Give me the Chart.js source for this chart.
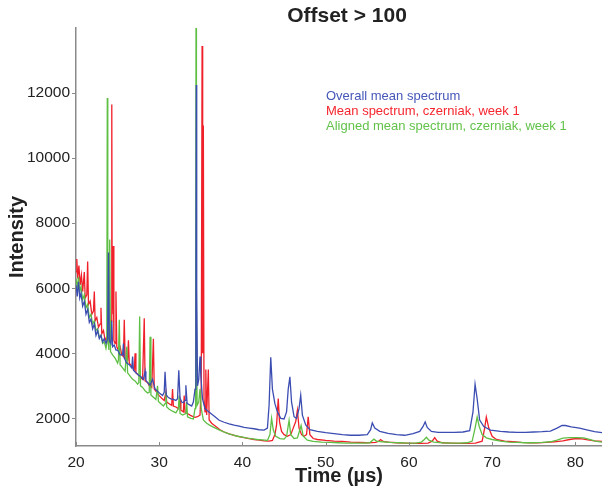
<!DOCTYPE html>
<html>
<head>
<meta charset="utf-8">
<script src="https://cdn.jsdelivr.net/npm/chart.js@4.4.0/dist/chart.umd.min.js"></script>
<style>
html, body { margin: 0; padding: 0; background: #fff; }
</style>
</head>
<body>
<canvas id="spectrumChart" width="602" height="493"></canvas>
<script>
var chartTitle = "Offset > 100";
var seriesNames = ["Overall mean spectrum", "Mean spectrum, czerniak, week 1", "Aligned mean spectrum, czerniak, week 1"];
var xTicks = [20, 30, 40, 50, 60, 70, 80];
var yTicks = [2000, 4000, 6000, 8000, 10000, 12000];

// [time (us), intensity]
var overallMean = [[20.0,6100],[20.15,5750],[20.3,6200],[20.45,5700],[20.6,5850],[20.8,5450],[21.0,5600],[21.2,5200],[21.4,5350],[21.6,4950],[21.8,5050],[22.0,4750],[22.2,4900],[22.4,4550],[22.6,4700],[22.8,4450],[23.0,4550],[23.2,4350],[23.4,4450],[23.6,4300],[23.8,4450],[23.9,7100],[24.0,4400],[24.2,4300],[24.3,5000],[24.4,4200],[24.6,4250],[24.8,4100],[25.0,4100],[25.3,3950],[25.6,3950],[25.7,4300],[25.8,3850],[26.1,3700],[26.4,3650],[26.7,3550],[26.8,3900],[26.9,3480],[27.2,3400],[27.5,3330],[27.8,3280],[28.1,3200],[28.3,3450],[28.4,3170],[28.6,3100],[28.9,3020],[29.2,3200],[29.5,2900],[29.8,2830],[30.1,2760],[30.4,2700],[30.6,2800],[30.7,3430],[30.85,2720],[31.1,2640],[31.4,2600],[31.7,2580],[32.0,2550],[32.2,2600],[32.35,3480],[32.5,2620],[32.7,2500],[32.9,2480],[33.1,2550],[33.2,3020],[33.35,2460],[33.6,2420],[33.9,2380],[34.1,2500],[34.3,2900],[34.4,5000],[34.45,12250],[34.5,6000],[34.6,3000],[34.75,3200],[34.9,3900],[35.0,3300],[35.2,2600],[35.5,2300],[35.8,2230],[36.2,2150],[36.7,2050],[37.2,1940],[37.8,1880],[38.4,1830],[39.0,1790],[39.6,1760],[40.2,1720],[40.8,1700],[41.4,1680],[42.0,1650],[42.6,1640],[43.0,1700],[43.2,2400],[43.4,3880],[43.6,2900],[43.9,2450],[44.2,2200],[44.6,2000],[45.0,1980],[45.3,2200],[45.5,2900],[45.7,3280],[45.9,2500],[46.2,2050],[46.5,2000],[46.8,2300],[47.0,2710],[47.2,2100],[47.6,1800],[48.1,1650],[49.0,1600],[50.0,1560],[51.0,1530],[52.0,1500],[53.0,1480],[54.0,1480],[55.0,1500],[55.4,1650],[55.6,1860],[55.9,1700],[56.5,1600],[57.5,1540],[58.5,1500],[59.5,1480],[60.5,1530],[61.3,1600],[61.7,1750],[61.95,1890],[62.2,1720],[62.7,1600],[63.5,1570],[64.5,1570],[65.5,1570],[66.5,1580],[67.3,1620],[67.7,2200],[67.95,3050],[68.2,2600],[68.5,1950],[69.0,1750],[69.8,1640],[71.0,1600],[72.0,1580],[73.0,1570],[74.0,1570],[75.0,1580],[76.0,1590],[77.0,1610],[77.8,1700],[78.4,1780],[78.8,1780],[79.5,1740],[80.5,1700],[81.5,1640],[82.3,1590],[83.2,1560]];

var meanWeek1 = [[20.0,6500],[20.1,6900],[20.2,6300],[20.35,6700],[20.5,6100],[20.65,6400],[20.8,5900],[21.0,6500],[21.1,5700],[21.3,5800],[21.4,6820],[21.5,5500],[21.7,5600],[21.9,5200],[22.1,5300],[22.2,5900],[22.3,5000],[22.5,5100],[22.7,4800],[22.9,4900],[23.0,5400],[23.1,4600],[23.3,4700],[23.5,4400],[23.7,4500],[23.9,4300],[24.1,4400],[24.25,5000],[24.3,11650],[24.35,5200],[24.45,7300],[24.55,4400],[24.7,4300],[24.8,5900],[24.9,4200],[25.1,4100],[25.3,4200],[25.5,3950],[25.7,3900],[25.8,5030],[25.9,3850],[26.2,3800],[26.3,4400],[26.4,3700],[26.7,3600],[27.0,3500],[27.1,4000],[27.2,3400],[27.5,3330],[27.8,3250],[28.0,3200],[28.2,5080],[28.3,3150],[28.6,3100],[28.8,3000],[29.1,2950],[29.3,4450],[29.4,2900],[29.7,2800],[30.0,2700],[30.3,2620],[30.6,2550],[30.8,2800],[30.9,2500],[31.2,2450],[31.5,2400],[31.6,2900],[31.7,2380],[32.0,2350],[32.3,2300],[32.5,2550],[32.6,2250],[32.9,2200],[33.0,2700],[33.1,2180],[33.4,2150],[33.7,2100],[34.0,2060],[34.3,2030],[34.6,2050],[34.9,2100],[35.05,3000],[35.15,13450],[35.22,4000],[35.3,11000],[35.38,2600],[35.5,2200],[35.6,3500],[35.7,2100],[35.9,3500],[36.0,1950],[36.3,1850],[36.8,1750],[37.3,1650],[37.8,1580],[38.4,1520],[39.0,1480],[39.6,1440],[40.2,1410],[40.8,1380],[41.4,1350],[42.0,1330],[42.6,1310],[43.2,1300],[43.6,1320],[43.9,1500],[44.1,1800],[44.3,2610],[44.45,1900],[44.7,1600],[45.0,1500],[45.4,1450],[45.8,1500],[46.1,1700],[46.4,1900],[46.6,2250],[46.8,1700],[47.1,1500],[47.4,1450],[47.7,1500],[47.9,2050],[48.1,1500],[48.5,1380],[49.0,1350],[50.0,1320],[51.0,1300],[52.0,1290],[53.0,1270],[54.0,1260],[55.0,1250],[56.0,1260],[56.4,1300],[56.6,1350],[56.9,1290],[57.5,1270],[58.5,1250],[59.5,1240],[60.5,1230],[61.5,1230],[62.3,1240],[62.8,1300],[63.1,1410],[63.4,1300],[64.0,1250],[65.0,1240],[66.0,1230],[67.0,1230],[68.0,1240],[68.8,1300],[69.1,1700],[69.3,2040],[69.6,1700],[70.0,1450],[70.5,1350],[71.5,1300],[72.5,1280],[73.5,1260],[74.5,1250],[75.5,1250],[76.5,1260],[77.5,1280],[78.5,1310],[79.3,1350],[80.1,1380],[80.8,1370],[81.5,1340],[82.3,1310],[83.2,1290]];

var alignedWeek1 = [[20.0,6300],[20.15,6000],[20.3,6350],[20.45,5900],[20.6,6050],[20.8,5650],[21.0,5800],[21.2,5400],[21.4,5500],[21.6,5100],[21.8,5200],[22.0,4900],[22.2,5000],[22.4,4700],[22.6,4750],[22.8,4500],[23.0,4550],[23.2,4300],[23.4,4350],[23.6,4150],[23.7,4300],[23.76,11850],[23.82,4600],[23.95,4100],[24.05,7500],[24.15,4050],[24.4,3950],[24.7,3850],[25.0,3700],[25.1,3800],[25.2,5030],[25.3,3650],[25.6,3550],[25.9,3450],[26.1,4200],[26.2,3400],[26.5,3300],[26.8,3200],[27.1,3150],[27.4,3050],[27.55,3100],[27.65,5130],[27.75,3000],[28.0,2950],[28.3,2850],[28.6,2780],[28.8,2800],[28.9,4510],[29.0,2720],[29.3,2650],[29.6,2580],[29.8,3000],[29.9,2520],[30.2,2450],[30.5,2380],[30.7,2450],[30.8,2800],[30.9,2350],[31.2,2280],[31.6,2220],[32.0,2170],[32.3,2300],[32.4,2700],[32.5,2150],[32.8,2100],[33.2,2150],[33.3,2500],[33.4,2050],[33.8,2000],[34.1,1980],[34.3,2300],[34.38,5000],[34.42,14200],[34.47,5500],[34.55,2400],[34.75,2500],[34.9,2900],[35.05,2300],[35.3,1950],[35.7,1850],[36.0,1800],[36.5,1730],[37.0,1670],[37.6,1600],[38.2,1540],[38.8,1490],[39.4,1450],[40.0,1420],[40.6,1390],[41.2,1370],[41.8,1350],[42.4,1340],[43.0,1320],[43.3,1500],[43.5,2000],[43.7,1650],[44.0,1450],[44.5,1380],[45.0,1360],[45.3,1450],[45.6,1940],[45.8,1500],[46.2,1380],[46.6,1400],[46.9,1650],[47.05,1780],[47.3,1450],[47.8,1330],[48.5,1290],[49.5,1270],[50.5,1260],[51.5,1250],[52.5,1240],[53.5,1240],[54.5,1240],[55.3,1250],[55.6,1320],[55.8,1360],[56.1,1300],[56.8,1280],[57.8,1260],[58.8,1250],[59.8,1240],[60.8,1240],[61.5,1270],[61.85,1350],[62.1,1420],[62.4,1330],[63.0,1270],[64.0,1250],[65.0,1240],[66.0,1240],[67.0,1250],[67.6,1300],[67.95,1700],[68.2,2040],[68.45,1750],[68.8,1500],[69.3,1400],[70.0,1350],[71.0,1300],[72.0,1270],[73.0,1260],[74.0,1250],[75.0,1250],[76.0,1260],[77.0,1280],[77.8,1330],[78.5,1390],[79.3,1410],[80.2,1410],[81.0,1400],[81.7,1350],[82.4,1300],[83.2,1270]];

var lineColors = ["#3c4db2", "#f0202a", "#5fbf45"];
var textColors = ["#4657b8", "#f5262e", "#62c24a"];
var axisGray = "#8a8a8a";
var fontFamily = '"Liberation Sans", Arial, sans-serif';

function toPoints(list) {
    return list.map(function (p) { return { x: p[0], y: p[1] }; });
}

// title, coloured text legend and the inward x ticks
var overlay = {
    id: "overlay",
    afterDraw: function (chart) {
        var ctx = chart.ctx;
        var area = chart.chartArea;
        var xs = chart.scales.x;
        ctx.save();
        ctx.fillStyle = "#222";
        ctx.font = "bold 21px " + fontFamily;
        ctx.textAlign = "center";
        ctx.textBaseline = "middle";
        ctx.fillText(chartTitle, 347, 16);

        ctx.font = "13px " + fontFamily;
        ctx.textAlign = "left";
        [0, 1, 2].forEach(function (i) {
            ctx.fillStyle = textColors[i];
            ctx.fillText(seriesNames[i], area.left + 250, area.top + 68 + i * 15);
        });

        ctx.strokeStyle = axisGray;
        ctx.lineWidth = 1;
        xTicks.forEach(function (t) {
            var px = Math.round(xs.getPixelForValue(t)) + 0.5;
            ctx.beginPath();
            ctx.moveTo(px, area.bottom);
            ctx.lineTo(px, area.bottom - 4);
            ctx.stroke();
        });
        ctx.restore();
    }
};

var sample = document.getElementById("spectrumChart");
new Chart(sample, {
    type: "line",
    data: {
        datasets: [
            { label: seriesNames[0], data: toPoints(overallMean), borderColor: lineColors[0] },
            { label: seriesNames[2], data: toPoints(alignedWeek1), borderColor: lineColors[2] },
            { label: seriesNames[1], data: toPoints(meanWeek1), borderColor: lineColors[1] }
        ]
    },
    options: {
        responsive: false,
        animation: false,
        devicePixelRatio: 1,
        datasets: {
            line: { borderWidth: 1.3, pointRadius: 0, tension: 0, fill: false }
        },
        layout: { padding: { top: 28, right: 0, left: 0, bottom: 0 } },
        plugins: {
            legend: { display: false },
            tooltip: { enabled: false },
            title: { display: false }
        },
        scales: {
            x: {
                type: "linear",
                min: 20,
                max: 83.2,
                afterBuildTicks: function (scale) {
                    scale.ticks = xTicks.map(function (v) { return { value: v }; });
                },
                afterFit: function (scale) { scale.height = 47; },
                grid: { display: false, drawOnChartArea: false, drawTicks: false },
                border: { display: true, color: axisGray, width: 1.5 },
                ticks: {
                    color: "#222",
                    padding: 7,
                    maxRotation: 0,
                    font: { family: fontFamily, size: 15.5 },
                    callback: function (v) { return String(v); }
                },
                title: {
                    display: true,
                    text: "Time (\u00b5s)",
                    color: "#222",
                    padding: { top: 0, bottom: 5 },
                    font: { family: fontFamily, size: 20, weight: "bold" }
                }
            },
            y: {
                min: 1150,
                max: 14000,
                afterBuildTicks: function (scale) {
                    scale.ticks = yTicks.map(function (v) { return { value: v }; });
                },
                afterFit: function (scale) { scale.width = 76; },
                grid: { display: true, drawOnChartArea: false, drawTicks: true, tickLength: 4, color: axisGray },
                border: { display: true, color: axisGray, width: 1.5 },
                ticks: {
                    color: "#222",
                    padding: 2,
                    font: { family: fontFamily, size: 15.5 },
                    callback: function (v) { return String(v); }
                },
                title: {
                    display: true,
                    text: "Intensity",
                    color: "#222",
                    padding: { top: 5, bottom: 0 },
                    font: { family: fontFamily, size: 20, weight: "bold" }
                }
            }
        }
    },
    plugins: [overlay]
});
</script>
</body>
</html>
